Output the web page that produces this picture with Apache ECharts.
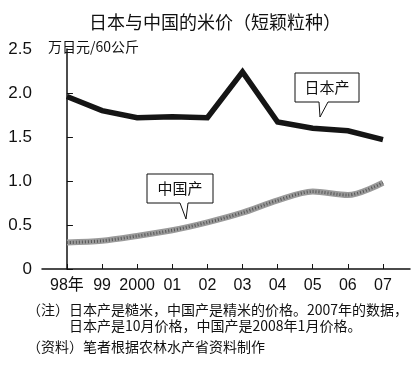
<!DOCTYPE html>
<html><head><meta charset="utf-8">
<script src="https://cdn.jsdelivr.net/npm/echarts@6/dist/echarts.min.js"></script>
<style>html,body{margin:0;padding:0;background:#fff}#c{width:420px;height:370px}</style>
</head><body><div id="c"></div>
<script>
var years = ['98年','99','2000','01','02','03','04','05','06','07'];
var japan = [1.96,1.80,1.72,1.73,1.72,2.24,1.67,1.60,1.57,1.47];
var china = [0.30,0.32,0.375,0.44,0.53,0.64,0.78,0.88,0.84,0.98];
var yTicks = [0,0.5,1.0,1.5,2.0,2.5];
var title = '日本与中国的米价（短颖粒种）';
var unit = '万日元/60公斤';
var noteLines = ['（注）日本产是糙米，中国产是精米的价格。2007年的数据，','　　　日本产是10月价格，中国产是2008年1月价格。','（资料）笔者根据农林水产省资料制作'];

var numFont = '"Liberation Sans Narrow","Liberation Sans","Noto Sans CJK SC",sans-serif';
var cjkFont = '"Noto Sans CJK SC",sans-serif';
var chart = echarts.init(document.getElementById('c'), null, {renderer:'canvas'});
var idx = years.map(function(_, i){ return i; });
function pairs(arr){ return arr.map(function(v,i){ return [i, v]; }); }

function callout(x1,y1,x2,y2,bl,br,tx,ty,text){
  return [{
    type:'polygon', z:100,
    shape:{points:[[x1,y1],[x2,y1],[x2,y2],[br,y2],[tx,ty],[bl,y2],[x1,y2]]},
    style:{fill:'#fff',stroke:'#111',lineWidth:1}
  },{
    type:'text', z:101, x:(x1+x2)/2, y:(y1+y2)/2,
    style:{text:text,fill:'#111',font:'15px '+cjkFont,align:'center',verticalAlign:'middle'}
  }];
}

var graphics = [{
  type:'text', x:215, y:22,
  style:{text:title,fill:'#111',font:'18px '+cjkFont,align:'center',verticalAlign:'middle'}
},{
  type:'text', x:48, y:47,
  style:{text:unit,fill:'#111',font:'14px '+cjkFont,align:'left',verticalAlign:'middle'}
}];
graphics = graphics.concat(callout(295,73,359,102,319,328,320,117,'日本产'));
graphics = graphics.concat(callout(147,174,213,203,180,188,186,219,'中国产'));
var noteY = [310,326,347];
noteLines.forEach(function(t,i){
  graphics.push({type:'text', x:27, y:noteY[i],
    style:{text:t,fill:'#111',font:'14px '+cjkFont,align:'left',verticalAlign:'middle'}});
});

chart.setOption({
  animation:false,
  backgroundColor:'#fff',
  grid:{left:42,right:10,top:49,bottom:101,containLabel:false},
  xAxis:{
    type:'value', min:-0.71, max:9.77,
    splitLine:{show:false},
    axisLine:{show:true,onZero:false,lineStyle:{color:'#111',width:1.5}},
    axisTick:{show:true,inside:true,length:5,customValues:idx,lineStyle:{color:'#111'}},
    axisLabel:{customValues:idx,color:'#111',fontSize:16,fontFamily:numFont,margin:9,
      formatter:function(v){ return years[Math.round(v)]; }}
  },
  yAxis:{
    type:'value', min:0, max:2.5, interval:0.5,
    splitLine:{show:false},
    axisLine:{show:true,lineStyle:{color:'#111',width:1.5}},
    axisTick:{show:true,inside:true,length:6,lineStyle:{color:'#111'}},
    axisLabel:{color:'#111',fontSize:17,fontFamily:numFont,margin:10,
      formatter:function(v){ return v===0 ? '0' : v.toFixed(1); }}
  },
  series:[{
    name:'日本产', type:'line', data:pairs(japan), symbol:'none',
    lineStyle:{color:'#151515',width:5.5,join:'miter'}
  },{
    name:'中国产', type:'line', data:pairs(china), symbol:'none', smooth:0.3,
    lineStyle:{color:'#9a9a9a',width:6}
  },{
    name:'中国产纹理', type:'line', data:pairs(china), symbol:'none', smooth:0.3,
    lineStyle:{color:'#555',width:3,type:[1,2]}
  }],
  graphic:graphics
});
</script></body></html>
